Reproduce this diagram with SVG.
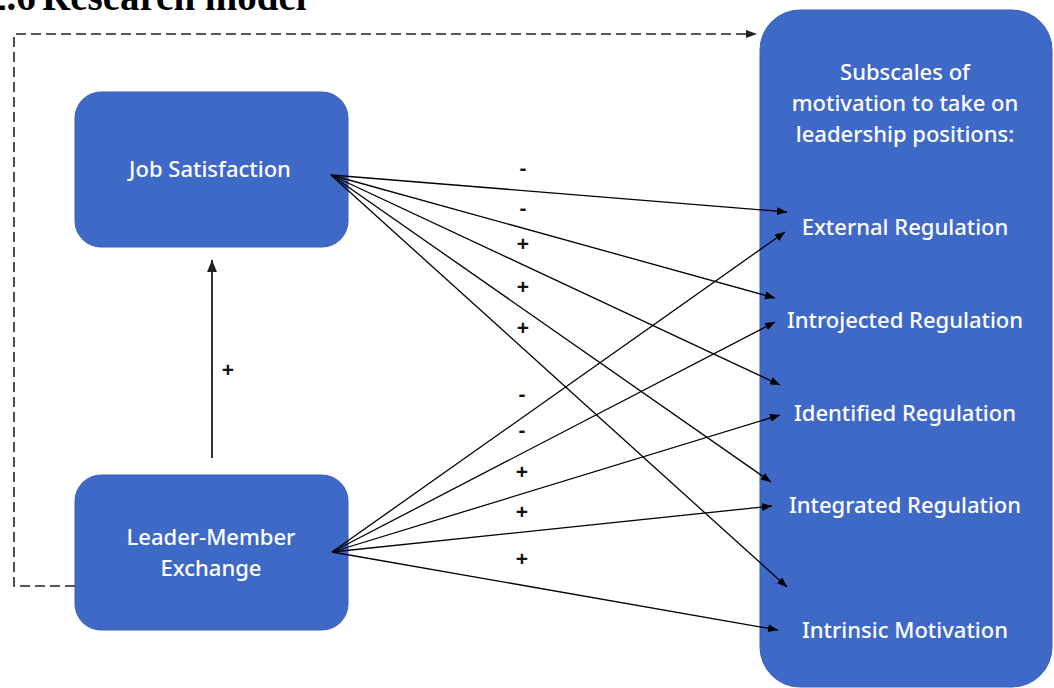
<svg xmlns="http://www.w3.org/2000/svg" width="1054" height="688" viewBox="0 0 1054 688">
  <defs>
    <marker id="arrow" viewBox="0 0 10 8" refX="10" refY="4" markerWidth="10" markerHeight="8" markerUnits="userSpaceOnUse" orient="auto">
      <path d="M0,0 L10,4 L0,8 Z" fill="#000"/>
    </marker>
    <marker id="arrow-dark" viewBox="0 0 12 10" refX="12" refY="5" markerWidth="12" markerHeight="10" markerUnits="userSpaceOnUse" orient="auto">
      <path d="M0,0 L12,5 L0,10 Z" fill="#222"/>
    </marker>
  </defs>
  <style>
    .box { fill: #3F69C7; stroke: #3A60B6; stroke-width: 1; }
    .label { font-family: "Noto Sans", "Open Sans", sans-serif; font-size: 22px; font-weight: 500; fill: #fff; text-anchor: middle; }
    .sign { font-family: "Liberation Sans", Arial, sans-serif; font-size: 21px; font-weight: bold; fill: #111; text-anchor: middle; }
    .link { stroke: #000; stroke-width: 1.3; fill: none; marker-end: url(#arrow); }
    .dash { stroke: #222; stroke-width: 1.6; fill: none; stroke-dasharray: 10 5; }
    .title { font-family: "Liberation Serif", "Times New Roman", serif; font-weight: bold; font-size: 39px; fill: #000; }
  </style>

  <rect width="1054" height="688" fill="#fff"/>

  <!-- section heading, partly above the top edge -->
  <text class="title" y="10"><tspan x="-13">2.6</tspan><tspan x="42">Research model</tspan></text>

  <g id="job-satisfaction">
    <rect class="box" x="75" y="92" width="273" height="155" rx="26"/>
    <text class="label" x="210" y="177">Job Satisfaction</text>
  </g>

  <g id="leader-member-exchange">
    <rect class="box" x="75" y="475" width="273" height="155" rx="26"/>
    <text class="label" x="211" y="545">Leader-Member</text>
    <text class="label" x="211" y="576">Exchange</text>
  </g>

  <g id="motivation-subscales">
    <rect class="box" x="760" y="10" width="292" height="677" rx="40"/>
    <text class="label" x="905" y="80">Subscales of</text>
    <text class="label" x="905" y="111">motivation to take on</text>
    <text class="label" x="905" y="142">leadership positions:</text>
    <text class="label" x="905" y="235">External Regulation</text>
    <text class="label" x="905" y="328">Introjected Regulation</text>
    <text class="label" x="905" y="421">Identified Regulation</text>
    <text class="label" x="905" y="513">Integrated Regulation</text>
    <text class="label" x="905" y="638">Intrinsic Motivation</text>
  </g>

  <g id="connectors">
    <!-- Job Satisfaction to each subscale -->
    <line class="link" x1="331" y1="175" x2="787" y2="212"/>
    <line class="link" x1="331" y1="175" x2="775" y2="298"/>
    <line class="link" x1="331" y1="175" x2="780" y2="385"/>
    <line class="link" x1="331" y1="175" x2="771" y2="482"/>
    <line class="link" x1="331" y1="175" x2="787" y2="587"/>

    <!-- Leader-Member Exchange to each subscale -->
    <line class="link" x1="332" y1="552" x2="785" y2="232"/>
    <line class="link" x1="332" y1="552" x2="775" y2="322"/>
    <line class="link" x1="332" y1="552" x2="780" y2="415"/>
    <line class="link" x1="332" y1="552" x2="772" y2="506"/>
    <line class="link" x1="332" y1="552" x2="778" y2="630"/>

    <!-- Leader-Member Exchange to Job Satisfaction -->
    <line x1="212" y1="458" x2="212" y2="260" stroke="#333" stroke-width="2" marker-end="url(#arrow-dark)"/>

    <!-- dashed path from Leader-Member Exchange to the subscales -->
    <polyline class="dash" points="75,586 14,586 14,34 748,34"/>
    <path d="M746,30 L757,34 L746,38 Z" fill="#222"/>
  </g>

  <g id="signs">
    <text class="sign" x="523" y="175">-</text>
    <text class="sign" x="523" y="215">-</text>
    <text class="sign" x="523" y="251">+</text>
    <text class="sign" x="523" y="294">+</text>
    <text class="sign" x="523" y="335">+</text>

    <text class="sign" x="522" y="401">-</text>
    <text class="sign" x="522" y="437">-</text>
    <text class="sign" x="522" y="479">+</text>
    <text class="sign" x="522" y="519">+</text>
    <text class="sign" x="522" y="566">+</text>

    <text class="sign" x="228" y="377">+</text>
  </g>
</svg>
